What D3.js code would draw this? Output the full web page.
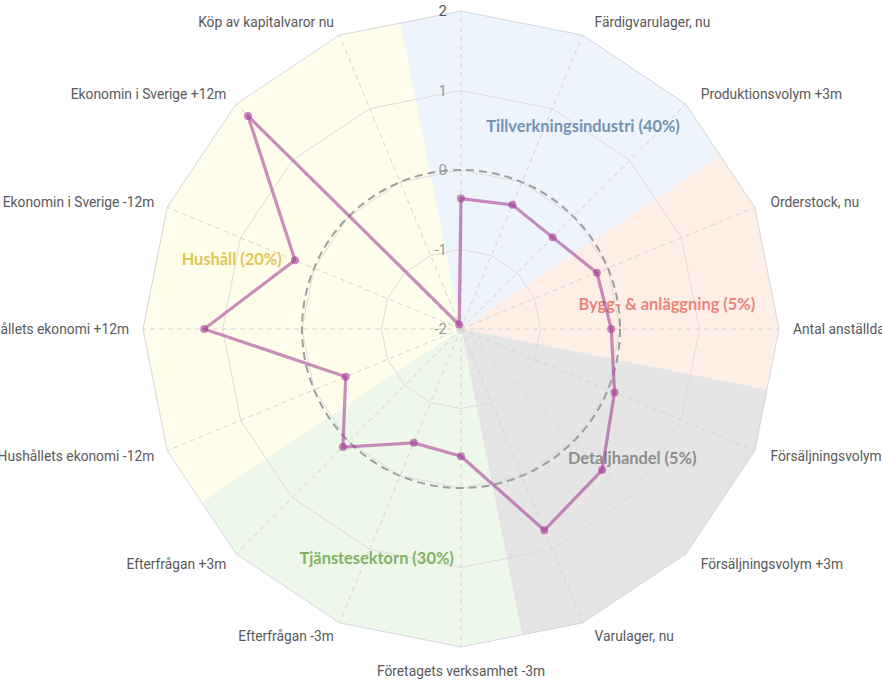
<!DOCTYPE html>
<html><head><meta charset="utf-8">
<script src="https://cdn.jsdelivr.net/npm/d3@7/dist/d3.min.js"></script>
<style>
html,body{margin:0;padding:0;background:#fff;}
svg{display:block;}
</style></head>
<body>
<svg id="chart" width="882" height="680"></svg>
<script>
const categories = ["", "Färdigvarulager, nu", "Produktionsvolym +3m", "Orderstock, nu", "Antal anställda",
  "Försäljningsvolym", "Försäljningsvolym +3m", "Varulager, nu", "Företagets verksamhet -3m",
  "Efterfrågan -3m", "Efterfrågan +3m", "Hushållets ekonomi -12m", "Hushållets ekonomi +12m",
  "Ekonomin i Sverige -12m", "Ekonomin i Sverige +12m", "Köp av kapitalvaror nu"];
const values = [-0.36, -0.31, -0.37, -0.15, -0.11, 0.09, 0.51, 0.74, -0.40, -0.45, 0.10, -0.43, 1.23, 0.26, 1.79, -1.94];
const tickValues = [-2, -1, 0, 1, 2];
const sectorNames = ["Tillverkningsindustri (40%)", "Bygg- & anläggning (5%)", "Detaljhandel (5%)", "Tjänstesektorn (30%)", "Hushåll (20%)"];
const sectorStart = [0, 3, 5, 8, 11];
const sectorCount = [3, 2, 3, 3, 5];

// styles
const sectorFill = ["#edf4fb", "#fdefe6", "#e5e5e5", "#eef8ea", "#fffeea"];
const sectorText = ["#7393b3", "#e8867a", "#8e8e8e", "#7fb268", "#e2c458"];
// label anchor positions (polar: degrees and data units)
const sectorLabelAngle = [30.9, 82.8, 126.8, 200.3, 287.2];
const sectorLabelValue = [0.99, 0.61, 0.69, 1.06, 1.02];

const svg = d3.select("#chart");
const cx = 461, cy = 329, R = 318;
const n = categories.length;
const step = 2 * Math.PI / n;
const r = d3.scaleLinear().domain([-2, 2]).range([0, R]);
const ang = d3.scaleLinear().domain([0, n]).range([0, 2 * Math.PI]);

const g = svg.append("g").attr("transform", `translate(${cx},${cy})`);
const px = (a, rad) => [rad * Math.sin(a), -rad * Math.cos(a)];

// sector wedges
sectorStart.forEach((s, k) => {
  const a0 = ang(s - 0.5), a1 = ang(s + sectorCount[k] - 0.5);
  const edgeR = R * Math.cos(step / 2);
  const pts = [[0, 0], px(a0, edgeR)];
  for (let i = s; i < s + sectorCount[k]; i++) pts.push(px(ang(i), R));
  pts.push(px(a1, edgeR));
  g.append("path").attr("d", "M" + pts.map(p => p.join(",")).join("L") + "Z")
    .attr("fill", sectorFill[k]).attr("stroke", sectorFill[k]).attr("stroke-width", 0.5);
});

// grid polygons
tickValues.filter(v => v > -2).forEach(v => {
  const pts = d3.range(n).map(i => px(ang(i), r(v)));
  g.append("path").attr("d", "M" + pts.map(p => p.join(",")).join("L") + "Z")
    .attr("fill", "none").attr("stroke", v === 2 ? "#d6d6de" : "#dcdcdc").attr("stroke-width", 1);
});

// spokes
d3.range(n).forEach(i => {
  const p = px(ang(i), R);
  g.append("line").attr("x1", 0).attr("y1", 0).attr("x2", p[0]).attr("y2", p[1])
    .attr("stroke", "#d4d4d4").attr("stroke-width", 1).attr("stroke-dasharray", "5,4");
});

// zero circle
g.append("circle").attr("r", r(0)).attr("fill", "none")
  .attr("stroke", "#9e9e9e").attr("stroke-width", 2).attr("stroke-dasharray", "8,5");

// tick labels
tickValues.forEach(v => {
  g.append("text").attr("x", -14).attr("y", -r(v)).attr("text-anchor", "end")
    .attr("dominant-baseline", "central")
    .attr("font-family", "Roboto, sans-serif").attr("font-size", 15)
    .attr("fill", v === 2 ? "#555" : "#9a9a9a").text(v);
});

// axis labels
categories.forEach((c, i) => {
  if (!c) return;
  const a = ang(i), s = Math.sin(a), co = Math.cos(a);
  let x = (R + 14) * s, y = -(R + 14) * co;
  let anchor = "middle";
  if (s > 0.01) { anchor = "start"; x += 7 * Math.abs(co); }
  else if (s < -0.01) { anchor = "end"; }
  else { y += co < 0 ? 10 : -10; }
  g.append("text").attr("x", x).attr("y", y).attr("text-anchor", anchor)
    .attr("dominant-baseline", "central")
    .attr("font-family", "Roboto, sans-serif").attr("font-size", 13.8)
    .attr("fill", "#595959").text(c);
});

// sector labels
sectorNames.forEach((nm, k) => {
  const p = px(sectorLabelAngle[k] * Math.PI / 180, r(sectorLabelValue[k]));
  g.append("text").attr("x", p[0]).attr("y", p[1]).attr("text-anchor", "middle")
    .attr("dominant-baseline", "central")
    .attr("font-family", "Lato, sans-serif").attr("font-weight", "bold").attr("font-size", 16.4)
    .attr("fill", sectorText[k]).text(nm);
});

// data line
const line = d3.lineRadial().angle((d, i) => ang(i)).radius(d => r(d)).curve(d3.curveLinearClosed);
const lineColor = "rgb(165,60,150)";
g.append("path").datum(values).attr("d", line).attr("fill", "none")
  .attr("stroke", lineColor).attr("stroke-opacity", 0.58).attr("stroke-width", 3.2)
  .attr("stroke-linejoin", "round");
g.selectAll("circle.pt").data(values).enter().append("circle").attr("class", "pt")
  .attr("cx", (d, i) => px(ang(i), r(d))[0]).attr("cy", (d, i) => px(ang(i), r(d))[1])
  .attr("r", 4).attr("fill", lineColor).attr("fill-opacity", 0.62);
</script>
</body></html>
